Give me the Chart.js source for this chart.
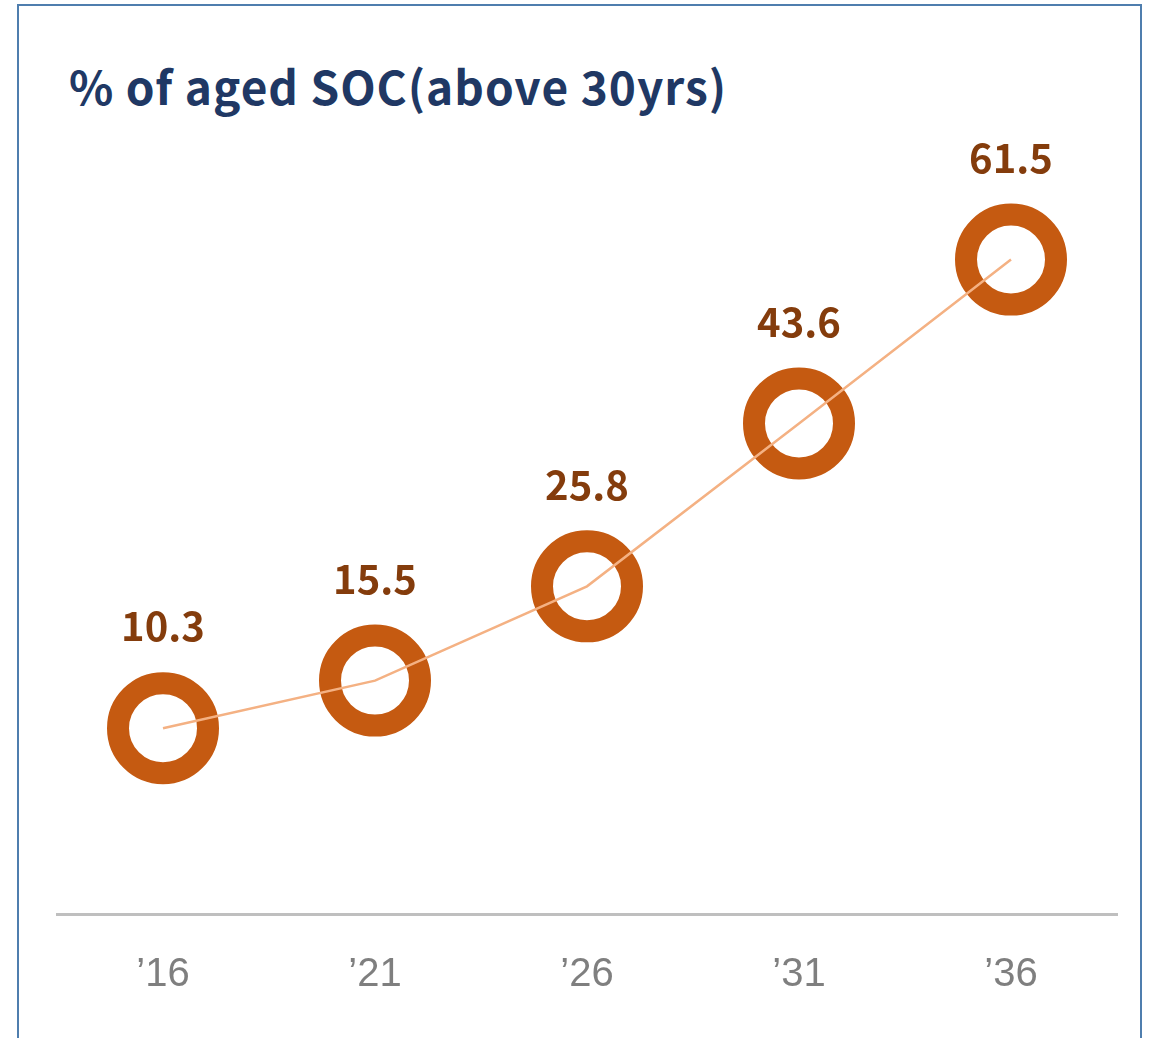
<!DOCTYPE html>
<html>
<head>
<meta charset="utf-8">
<script src="https://cdn.jsdelivr.net/npm/chart.js@4"></script>
<style>
  body { margin: 0; background: #fff; overflow: hidden; }
  #frame { position: absolute; left: 17px; top: 4px; width: 1121px; height: 1100px;
           border: 2px solid #4F7EAE; border-bottom: none; }
  #title { position: absolute; left: 69px; top: 52px; margin: 0; letter-spacing: 1px;
           font: bold 46px "Noto Sans CJK KR", "Noto Sans", sans-serif; color: #203864; white-space: nowrap; }
  #myChart { position: absolute; left: 0; top: 0; }
</style>
</head>
<body>
<div id="frame"></div>
<div id="title">% of aged SOC(above 30yrs)</div>
<canvas id="myChart" width="1150" height="1038"></canvas>
<script>
const years = ['\u201916', '\u201921', '\u201926', '\u201931', '\u201936']
const agedShare = [10.3, 15.5, 25.8, 43.6, 61.5]

// value labels above the rings
const valueLabels = {
    id: 'valueLabels',
    afterDatasetsDraw(chart) {
        const ctx = chart.ctx
        const meta = chart.getDatasetMeta(1)
        ctx.save()
        ctx.font = 'bold 40px "Noto Sans CJK KR", "Noto Sans", sans-serif'
        ctx.fillStyle = '#843C0C'
        ctx.textAlign = 'center'
        ctx.textBaseline = 'middle'
        meta.data.forEach((pt, i) => {
            ctx.fillText(agedShare[i].toFixed(1), pt.x, pt.y - 102)
        })
        ctx.restore()
    }
}

let plot = () => {
    const ctx = document.getElementById('myChart')

    const dataset = {
        labels: years,
        datasets: [{
            // thin line, drawn on top of the rings
            data: agedShare,
            borderColor: '#F4B183',
            borderWidth: 2.5,
            pointRadius: 0,
            fill: false,
            tension: 0
        }, {
            data: agedShare,
            showLine: false,
            pointRadius: 45,
            pointHoverRadius: 45,
            pointBorderWidth: 22,
            pointBorderColor: '#C55A11',
            pointBackgroundColor: '#ffffff'
        }]
    }

    const config = {
        type: 'line',
        data: dataset,
        plugins: [valueLabels],
        options: {
            responsive: false,
            animation: false,
            events: [],
            layout: { autoPadding: false, padding: { left: 57, right: 33, top: 136, bottom: 10 } },
            plugins: { legend: { display: false }, tooltip: { enabled: false } },
            scales: {
                x: {
                    offset: true,
                    grid: { display: false },
                    border: { display: true, color: '#BFBFBF', width: 3 },
                    ticks: {
                        color: '#7F7F7F',
                        padding: 29,
                        font: { family: '"Liberation Sans Narrow", "Liberation Sans", sans-serif', size: 40 }
                    }
                },
                y: {
                    display: false,
                    min: -10,
                    max: 75
                }
            }
        }
    }

    const chart = new Chart(ctx, config)
}

plot()
</script>
</body>
</html>
